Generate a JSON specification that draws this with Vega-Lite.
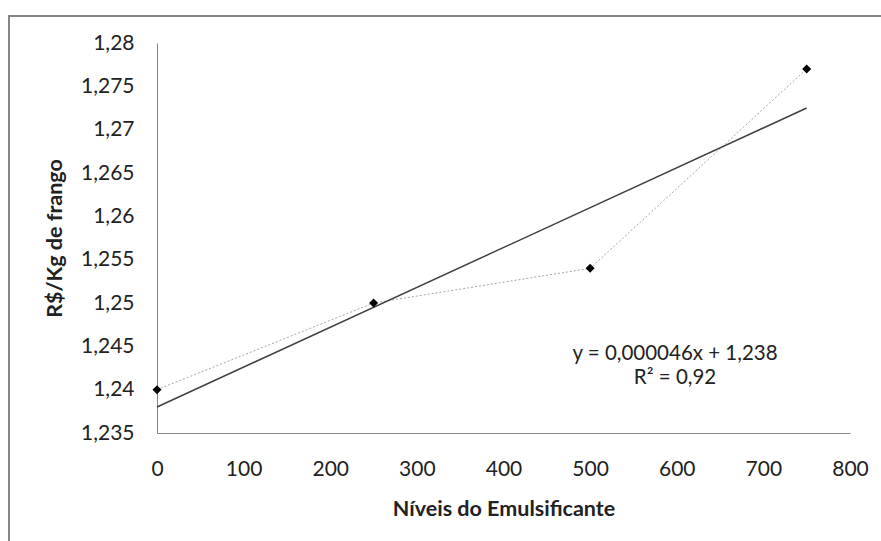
{
  "$schema": "https://vega.github.io/schema/vega-lite/v6.json",
  "width": 882,
  "height": 535,
  "autosize": {"type": "none"},
  "padding": {"left": 9, "top": 16, "right": -10, "bottom": -10},
  "background": "white",
  "config": {
    "locale": {"number": {"decimal": ",", "thousands": ".", "grouping": [3], "currency": ["R$", ""]}},
    "view": {"stroke": "#868686", "strokeWidth": 2},
    "font": "Lato",
    "axis": {"grid": false, "ticks": false, "domainColor": "#868686", "domainWidth": 1, "labelFont": "Lato", "labelFontSize": 21, "labelColor": "#222222", "titleFont": "Lato", "titleFontSize": 21.5, "titleFontWeight": "bold", "titleColor": "#222222"}
  },
  "datasets": {
    "pontos": [
      {"x": 0, "y": 1.240},
      {"x": 250, "y": 1.250},
      {"x": 500, "y": 1.254},
      {"x": 750, "y": 1.277}
    ],
    "tendencia": [
      {"x": 0, "y": 1.238},
      {"x": 750, "y": 1.2725}
    ],
    "rotulos": [
      {"x": 598, "y": 1.2441, "label": "y = 0,000046x + 1,238"},
      {"x": 598, "y": 1.24135, "label": "R² = 0,92"}
    ]
  },
  "encoding": {
    "x": {
      "field": "x", "type": "quantitative",
      "scale": {"domain": [0, 800], "range": [148, 841], "nice": false, "zero": false},
      "axis": {"values": [0, 100, 200, 300, 400, 500, 600, 700, 800], "offset": -118, "labelPadding": 25, "titlePadding": 19, "title": "Níveis do Emulsificante", "labelFlush": false}
    },
    "y": {
      "field": "y", "type": "quantitative",
      "scale": {"domain": [1.235, 1.28], "range": [417, 27], "nice": false, "zero": false},
      "axis": {"values": [1.235, 1.24, 1.245, 1.25, 1.255, 1.26, 1.265, 1.27, 1.275, 1.28], "format": ".3~f", "offset": -148, "labelPadding": 23, "titlePadding": 14, "title": "R$/Kg de frango", "labelFlush": false}
    }
  },
  "layer": [
    {
      "data": {"name": "pontos"},
      "mark": {"type": "line", "color": "#a6a6a6", "strokeWidth": 1, "strokeDash": [2, 2]}
    },
    {
      "data": {"name": "tendencia"},
      "mark": {"type": "line", "color": "#404040", "strokeWidth": 1.5}
    },
    {
      "data": {"name": "pontos"},
      "mark": {"type": "point", "shape": "diamond", "filled": true, "color": "#000000", "size": 80, "opacity": 1}
    },
    {
      "data": {"name": "rotulos"},
      "mark": {"type": "text", "font": "Lato", "fontSize": 20.5, "color": "#222222", "align": "center", "baseline": "middle"},
      "encoding": {"text": {"field": "label", "type": "nominal"}}
    }
  ]
}
